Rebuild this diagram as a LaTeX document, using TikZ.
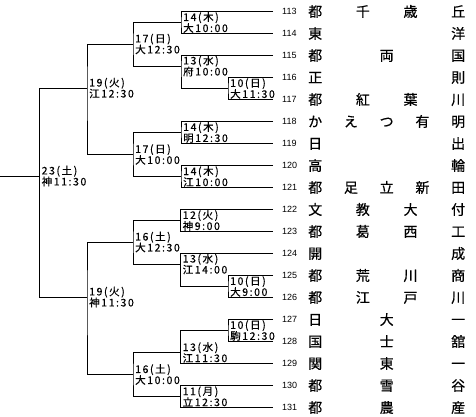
\documentclass[tikz,border=0pt]{standalone}
\usepackage{fontspec}
\setmainfont{Noto Sans CJK JP}
\newfontfamily\numfont{Liberation Sans}
\newfontfamily\schoolfont[FakeBold=0.5]{Noto Sans CJK JP}
\newfontfamily\datefont[LetterSpace=15, FakeBold=0.4]{Noto Sans CJK JP}
\newcommand{\teamspread}[1]{\makebox[157pt][s]{#1}}

\begin{document}
\begin{tikzpicture}[x=1pt, y=-1pt,
  teamno/.style={anchor=west, inner xsep=9pt, inner ysep=0pt, font=\numfont\fontsize{9}{9}\selectfont},
  school/.style={anchor=west, inner sep=0pt, font=\schoolfont\fontsize{14}{14}\selectfont},
  game/.style={anchor=west, inner xsep=2pt, inner ysep=0pt, align=left, font=\datefont\fontsize{10.5}{11}\selectfont},
  bline/.style={line width=0.9pt}]
\useasboundingbox (0,0) rectangle (476,417);
\node[teamno] (n113) at (273,11.5) {113};
\node[teamno] (n114) at (273,33.5) {114};
\node[teamno] (n115) at (273,55.5) {115};
\node[teamno] (n116) at (273,77.5) {116};
\node[teamno] (n117) at (273,99.5) {117};
\node[teamno] (n118) at (273,121.5) {118};
\node[teamno] (n119) at (273,143.5) {119};
\node[teamno] (n120) at (273,165.5) {120};
\node[teamno] (n121) at (273,187.5) {121};
\node[teamno] (n122) at (273,209.5) {122};
\node[teamno] (n123) at (273,231.5) {123};
\node[teamno] (n124) at (273,253.5) {124};
\node[teamno] (n125) at (273,275.5) {125};
\node[teamno] (n126) at (273,297.5) {126};
\node[teamno] (n127) at (273,319.5) {127};
\node[teamno] (n128) at (273,341.5) {128};
\node[teamno] (n129) at (273,363.5) {129};
\node[teamno] (n130) at (273,385.5) {130};
\node[teamno] (n131) at (273,407.5) {131};
\node[school] (s113) at (308,11.5) {\teamspread{都\hfill 千\hfill 歳\hfill 丘}};
\node[school] (s114) at (308,33.5) {\teamspread{東\hfill 洋}};
\node[school] (s115) at (308,55.5) {\teamspread{都\hfill 両\hfill 国}};
\node[school] (s116) at (308,77.5) {\teamspread{正\hfill 則}};
\node[school] (s117) at (308,99.5) {\teamspread{都\hfill 紅\hfill 葉\hfill 川}};
\node[school] (s118) at (308,121.5) {\teamspread{か\hfill え\hfill つ\hfill 有\hfill 明}};
\node[school] (s119) at (308,143.5) {\teamspread{日\hfill 出}};
\node[school] (s120) at (308,165.5) {\teamspread{高\hfill 輪}};
\node[school] (s121) at (308,187.5) {\teamspread{都\hfill 足\hfill 立\hfill 新\hfill 田}};
\node[school] (s122) at (308,209.5) {\teamspread{文\hfill 教\hfill 大\hfill 付}};
\node[school] (s123) at (308,231.5) {\teamspread{都\hfill 葛\hfill 西\hfill 工}};
\node[school] (s124) at (308,253.5) {\teamspread{開\hfill 成}};
\node[school] (s125) at (308,275.5) {\teamspread{都\hfill 荒\hfill 川\hfill 商}};
\node[school] (s126) at (308,297.5) {\teamspread{都\hfill 江\hfill 戸\hfill 川}};
\node[school] (s127) at (308,319.5) {\teamspread{日\hfill 大\hfill 一}};
\node[school] (s128) at (308,341.5) {\teamspread{国\hfill 士\hfill 舘}};
\node[school] (s129) at (308,363.5) {\teamspread{関\hfill 東\hfill 一}};
\node[school] (s130) at (308,385.5) {\teamspread{都\hfill 雪\hfill 谷}};
\node[school] (s131) at (308,407.5) {\teamspread{都\hfill 農\hfill 産}};
\node[game] (k1) at (228,88.5) {10(日)\\大11:30};
\node[game] (k2) at (228,286.5) {10(日)\\大9:00};
\node[game] (k3) at (228,330.5) {10(日)\\駒12:30};
\node[game] (a1) at (181,22.5) {14(木)\\大10:00};
\node[game] (a2) at (181,66) {13(水)\\府10:00};
\node[game] (a3) at (181,132.5) {14(木)\\明12:30};
\node[game] (a4) at (181,176.5) {14(木)\\江10:00};
\node[game] (a5) at (180.5,220.5) {12(火)\\神9:00};
\node[game] (a6) at (180.5,264) {13(水)\\江14:00};
\node[game] (a7) at (180.5,352.5) {13(水)\\江11:30};
\node[game] (a8) at (180.5,396.5) {11(月)\\立12:30};
\node[game] (b1) at (133,44) {17(日)\\大12:30};
\node[game] (b2) at (133,154.5) {17(日)\\大10:00};
\node[game] (b3) at (133,242) {16(土)\\大12:30};
\node[game] (b4) at (133,374.5) {16(土)\\大10:00};
\node[game] (c1) at (87,88) {19(火)\\江12:30};
\node[game] (c2) at (87,297) {19(火)\\神11:30};
\node[game] (fin) at (39.5,176) {23(土)\\神11:30};
\coordinate (entry) at (0,176);
\draw[bline] (n113.west) -| (a1.west) |- (n114.west);
\draw[bline] (n116.west) -| (k1.west) |- (n117.west);
\draw[bline] (n115.west) -| (a2.west) |- (k1.west);
\draw[bline] (n118.west) -| (a3.west) |- (n119.west);
\draw[bline] (n120.west) -| (a4.west) |- (n121.west);
\draw[bline] (n122.west) -| (a5.west) |- (n123.west);
\draw[bline] (n125.west) -| (k2.west) |- (n126.west);
\draw[bline] (n124.west) -| (a6.west) |- (k2.west);
\draw[bline] (n127.west) -| (k3.west) |- (n128.west);
\draw[bline] (k3.west) -| (a7.west) |- (n129.west);
\draw[bline] (n130.west) -| (a8.west) |- (n131.west);
\draw[bline] (a1.west) -| (b1.west) |- (a2.west);
\draw[bline] (a3.west) -| (b2.west) |- (a4.west);
\draw[bline] (a5.west) -| (b3.west) |- (a6.west);
\draw[bline] (a7.west) -| (b4.west) |- (a8.west);
\draw[bline] (b1.west) -| (c1.west) |- (b2.west);
\draw[bline] (b3.west) -| (c2.west) |- (b4.west);
\draw[bline] (c1.west) -| (fin.west) |- (c2.west);
\draw[bline] (fin.west) -- (entry);
\end{tikzpicture}
\end{document}
